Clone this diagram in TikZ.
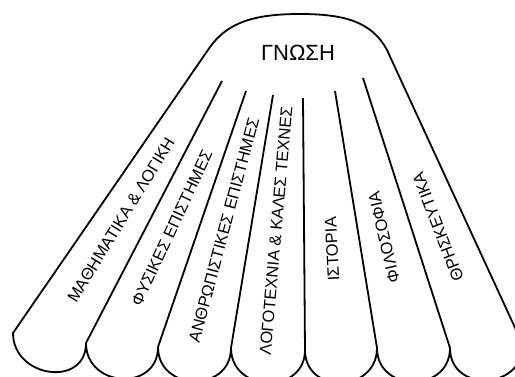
\documentclass[tikz,border=0pt]{standalone}
\usepackage{fontspec}
\setmainfont{Liberation Sans}
\tikzset{
  branch/.style={font=\fontsize{16.5}{19}\selectfont, inner sep=0pt},
  rootlabel/.style={font=\fontsize{22}{26}\selectfont, inner sep=0pt}
}
\begin{document}
\begin{tikzpicture}[x=1pt,y=-1pt, line width=1.8pt, line join=round]
\useasboundingbox (0,0) rectangle (515,376);
\clip (0,0) rectangle (515,376);
% lower ends of the strips
\coordinate (c0) at (13,333);
\coordinate (c1) at (86,343);
\coordinate (c2) at (158,347);
\coordinate (c3) at (231,348);
\coordinate (c4) at (305,350);
\coordinate (c5) at (377,348);
\coordinate (c6) at (450,348);
\coordinate (c7) at (523,345);
% upper ends of the dividers
\coordinate (t1) at (222,81);
\coordinate (t2) at (246,91);
\coordinate (t3) at (273,95);
\coordinate (t4) at (303,98);
\coordinate (t5) at (335,91);
\coordinate (t6) at (363,78);
% outline
\draw[fill=white] (c0) -- (210,47) .. controls (228,22) and (255,14) .. (300,14)
  .. controls (345,14) and (372,22) .. (387,50) -- (c7)
  .. controls +(0,45) and +(0,45) .. (c6)
  .. controls +(0,45) and +(0,45) .. (c5)
  .. controls +(0,45) and +(0,45) .. (c4)
  .. controls +(0,45) and +(0,45) .. (c3)
  .. controls +(0,45) and +(0,45) .. (c2)
  .. controls +(0,45) and +(0,45) .. (c1)
  .. controls +(0,45) and +(0,45) .. (c0) -- cycle;
\foreach \i in {1,...,6}
  \draw (c\i) -- (t\i);
% labels
\node[rootlabel] (gnosi) at (298,53) {ΓΝΩΣΗ};
\node[branch, rotate=58.5] (math) at (121,220) {ΜΑΘΗΜΑΤΙΚΑ \& ΛΟΓΙΚΗ};
\node[branch, rotate=65] (fysikes) at (172,228) {ΦΥΣΙΚΕΣ ΕΠΙΣΤΗΜΕΣ};
\node[branch, rotate=75] (anthr) at (224,230) {ΑΝΘΡΩΠΙΣΤΙΚΕΣ ΕΠΙΣΤΗΜΕΣ};
\node[branch, rotate=85] (logot) at (276,231) {ΛΟΓΟΤΕΧΝΙΑ \& ΚΑΛΕΣ ΤΕΧΝΕΣ};
\node[branch, rotate=93] (istoria) at (332,249) {ΙΣΤΟΡΙΑ};
\node[branch, rotate=103] (filos) at (384,237) {ΦΙΛΟΣΟΦΙΑ};
\node[branch, rotate=111] (thrisk) at (438,227) {ΘΡΗΣΚΕΥΤΙΚΑ};
\end{tikzpicture}
\end{document}
